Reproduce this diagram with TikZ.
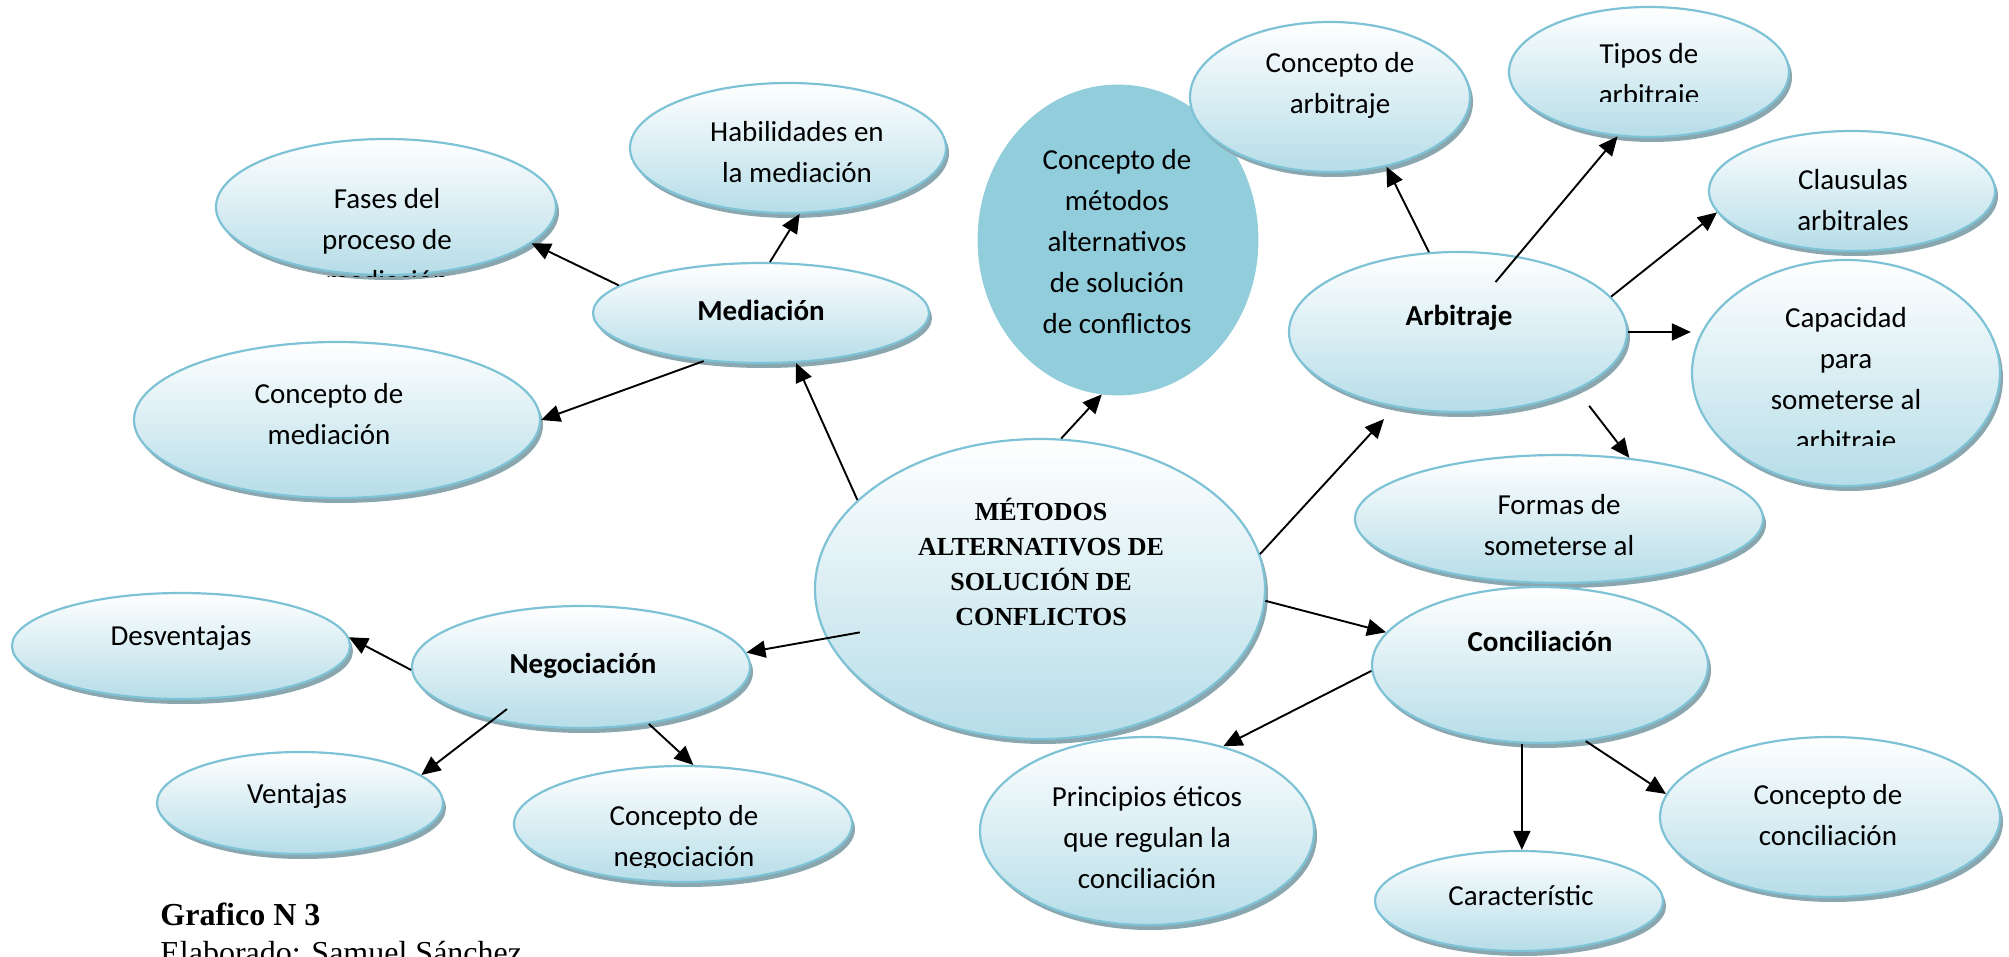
\documentclass[tikz,border=0pt]{standalone}
\usepackage{fontspec}
\setmainfont{Carlito}
\newfontfamily\timesrm{Liberation Serif}
\usetikzlibrary{shapes.geometric, arrows.meta, shadows}

\definecolor{rim}{RGB}{126,194,214}
\definecolor{fillbot}{RGB}{182,221,232}
\definecolor{shadowgrey}{RGB}{138,166,174}
\definecolor{discblue}{RGB}{146,205,220}

\begin{document}
\begin{tikzpicture}[x=0.5pt, y=-0.5pt, every node/.style={font=\fontsize{14.5}{20.5}\selectfont}]
  % Styles
  \tikzset{
    bubble/.style = {draw=rim, shape=ellipse, line width=1.1pt, top color=white, bottom color=fillbot, inner sep=0pt,
      drop shadow={shadow xshift=1.5pt, shadow yshift=-2.5pt, fill=shadowgrey, opacity=1}},
    disc/.style = {shape=ellipse, fill=discblue, draw=discblue, inner sep=0pt},
    dims/.style 2 args = {minimum width=#1pt, minimum height=#2pt},
    txt/.style = {align=center, inner sep=0pt},
    head/.style = {txt, font=\fontsize{14.5}{20.5}\selectfont\bfseries},
    link/.style = {-{Triangle[length=9.5pt, width=8.5pt]}, line width=0.95pt}
  }

  \clip (0,0) rectangle (2009,957);

  % Central topic
  \node[bubble, dims={225}{150}] (Met) at (1040,589) {};
  \node[disc, dims={140}{155}] (ConcMet) at (1118,240) {};

  % Mediation side
  \node[bubble, dims={158}{65}] (Hab) at (788,148) {};
  \node[bubble, dims={168}{50}] (Med) at (761,313) {};
  \node[bubble, dims={170}{68}] (Fases) at (386,207) {};
  \node[bubble, dims={203}{78}] (ConMed) at (337,420) {};

  % Negotiation side
  \node[bubble, dims={169}{61}] (Neg) at (581,667) {};
  \node[bubble, dims={169}{53}] (Desv) at (181,646) {};
  \node[bubble, dims={143}{51}] (Vent) at (300,803) {};
  \node[bubble, dims={169}{58}] (ConNeg) at (683,824) {};

  % Arbitration side
  \node[bubble, dims={140}{75}] (ConArb) at (1330,97) {};
  \node[bubble, dims={140}{65}] (Tipos) at (1649,72) {};
  \node[bubble, dims={143}{60}] (Claus) at (1852,191) {};
  \node[bubble, dims={154}{113}] (Capac) at (1846,373) {};
  \node[bubble, dims={169}{80}] (Arb) at (1458,332) {};
  \node[bubble, dims={204}{64}] (Formas) at (1559,519) {};

  % Conciliation side
  \node[bubble, dims={168}{78}] (Conc) at (1540,665) {};
  \node[bubble, dims={167}{94}] (Princ) at (1147,831) {};
  \node[bubble, dims={170}{80}] (ConConc) at (1830,817) {};
  \node[bubble, dims={144}{50}] (Caract) at (1519,901) {};

  % Texts
  \node[txt, font=\fontsize{13}{17.5}\selectfont\timesrm\bfseries] (MetT) at (1041,562) {MÉTODOS\\ALTERNATIVOS DE\\SOLUCIÓN DE\\CONFLICTOS};
  \node[txt] (ConcMetT) at (1117,242) {Concepto de\\métodos\\alternativos\\de solución\\de conflictos};
  \node[txt] (HabT) at (797,152) {Habilidades en\\la mediación};
  \node[head] (MedT) at (761,310) {Mediación};
  \begin{scope}
    \clip (200,130) rectangle (580,277);
    \node[txt] (FasesT) at (387,240) {Fases del\\proceso de\\mediación};
  \end{scope}
  \node[txt] (ConMedT) at (329,414) {Concepto de\\mediación};
  \node[head] (NegT) at (583,666) {Negociación};
  \node[txt] (DesvT) at (181,638) {Desventajas};
  \node[txt] (VentT) at (297,796) {Ventajas};
  \begin{scope}
    \clip (500,760) rectangle (870,867);
    \node[txt] (ConNegT) at (684,838) {Concepto de\\negociación};
  \end{scope}
  \node[txt] (ConArbT) at (1340,85) {Concepto de\\arbitraje};
  \begin{scope}
    \clip (1500,0) rectangle (1800,102);
    \node[txt] (TiposT) at (1649,76) {Tipos de\\arbitraje};
  \end{scope}
  \node[txt] (ClausT) at (1853,200) {Clausulas\\arbitrales};
  \begin{scope}
    \clip (1690,280) rectangle (2009,445);
    \node[txt] (CapacT) at (1846,381) {Capacidad\\para\\someterse al\\arbitraje};
  \end{scope}
  \node[head] (ArbT) at (1459,318) {Arbitraje};
  \node[txt] (FormasT) at (1559,525) {Formas de\\someterse al};
  \node[head] (ConcT) at (1540,641) {Conciliación};
  \node[txt] (PrincT) at (1147,838) {Principios éticos\\que regulan la\\conciliación};
  \node[txt] (ConConcT) at (1828,815) {Concepto de\\conciliación};
  \node[txt] (CaractT) at (1521,896) {Característic};

  % Caption
  \node[anchor=base west, inner sep=0pt, font=\fontsize{16}{19}\selectfont\timesrm\bfseries] (Caption) at (160,925) {Grafico N 3};
  \node[anchor=base west, inner sep=0pt, font=\fontsize{16}{19}\selectfont\timesrm] (Author) at (160,963) {Elaborado: Samuel Sánchez};

  % Connections
  \draw[link] (Met.154) -- (Med.-55);
  \draw[link] (Met.82) -- (ConcMet.-96);
  \draw[link, shorten >=8pt] (Met.9) -- (Arb.-130);
  \draw[link] (Met.-3) -- (Conc.168);
  \draw[link, shorten <=-17pt] (Met.-167) -- (Neg.5);

  \draw[link] (Med.80) -- (Hab.-80);
  \draw[link] (Med.169) -- (Fases.-14);
  \draw[link] (Med.-140) -- (ConMed.0);

  \draw[link] (Neg.181) -- (Desv.3);
  \draw[link, shorten <=-9pt] (Neg.-149) -- (Vent.13);
  \draw[link] (Neg.-40) -- (ConNeg.80);

  \draw[link] (Arb.110) -- (ConArb.-51);
  \draw[link, shorten <=-17pt] (Arb.52) -- (Tipos.-116);
  \draw[link] (Arb.13) -- (Claus.189);
  \draw[link] (Arb.0) -- (Arb.0 -| Capac.west);
  \draw[link, shorten <=10pt] (Arb.-26) -- (Formas.41);

  \draw[link] (Conc.182) -- (Princ.48);
  \draw[link] (Conc.-103) -- (Conc.-103 |- Caract.north);
  \draw[link] (Conc.-59) -- (ConConc.172);

\end{tikzpicture}
\end{document}
